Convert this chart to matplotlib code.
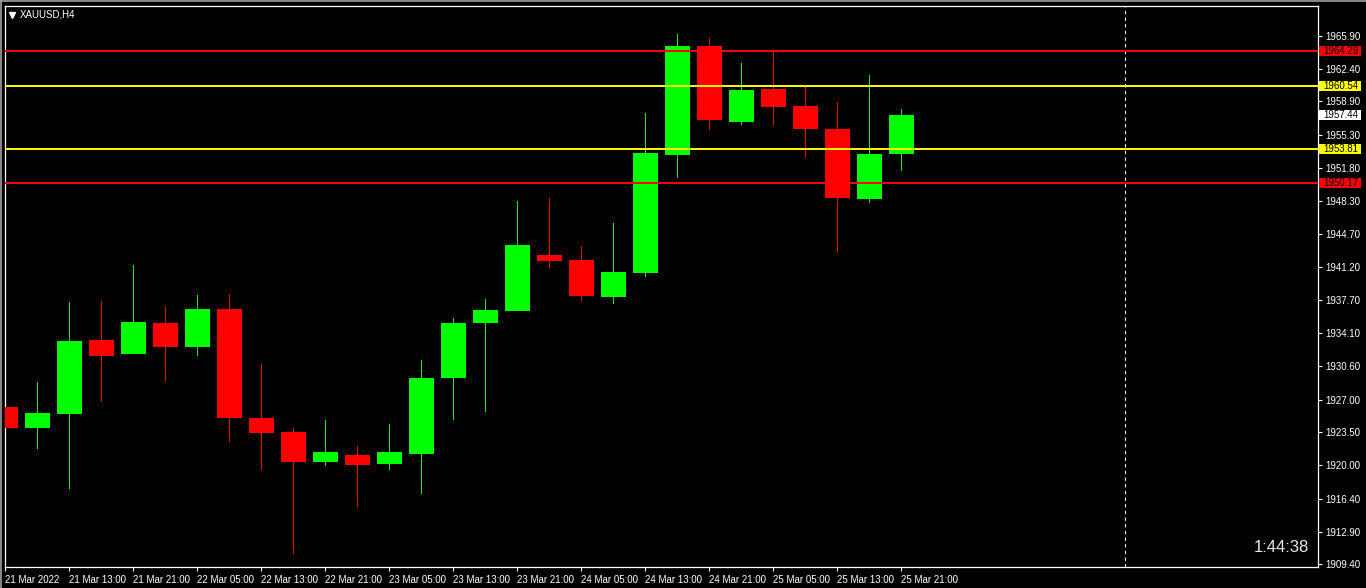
import matplotlib
matplotlib.use("Agg")
import matplotlib.pyplot as plt
from matplotlib.patches import Rectangle
from matplotlib.lines import Line2D
import matplotlib.transforms as mtransforms

plt.rcParams['font.family'] = ['Liberation Sans', 'DejaVu Sans']

# XAUUSD H4 candles
opens = [1926.22, 1924.01, 1925.50, 1933.39, 1931.92, 1935.20, 1932.67, 1936.70,
         1925.04, 1923.55, 1920.37, 1921.09, 1920.16, 1921.23, 1929.35, 1935.24,
         1936.52, 1942.48, 1941.94, 1938.02, 1940.58, 1953.20, 1964.83, 1956.73,
         1960.23, 1958.41, 1955.95, 1948.50, 1953.31]
highs = [1928.89, 1928.89, 1937.45, 1937.56, 1941.41, 1936.92, 1938.20, 1938.20,
         1930.82, 1923.97, 1924.83, 1922.05, 1924.40, 1931.25, 1935.74, 1937.77,
         1948.25, 1948.57, 1943.33, 1945.90, 1957.66, 1966.11, 1965.69, 1963.01,
         1964.19, 1960.55, 1958.73, 1961.73, 1958.09]
lows = [1922.69, 1921.73, 1917.45, 1926.89, 1931.92, 1929.03, 1931.71, 1922.51,
        1919.51, 1910.53, 1919.94, 1915.56, 1919.51, 1916.95, 1924.86, 1925.72,
        1936.52, 1941.12, 1937.59, 1937.27, 1940.16, 1950.74, 1955.88, 1956.41,
        1956.41, 1952.99, 1942.83, 1948.07, 1951.49]
closes = [1924.01, 1925.58, 1933.28, 1931.71, 1935.31, 1932.67, 1936.70, 1925.08,
          1923.47, 1920.37, 1921.41, 1920.05, 1921.41, 1929.32, 1935.20, 1936.60,
          1943.55, 1941.87, 1938.12, 1940.66, 1953.39, 1964.83, 1956.95, 1960.12,
          1958.34, 1955.95, 1948.61, 1953.28, 1957.44]

x_labels = ["21 Mar 2022", "21 Mar 13:00", "21 Mar 21:00", "22 Mar 05:00",
            "22 Mar 13:00", "22 Mar 21:00", "23 Mar 05:00", "23 Mar 13:00",
            "23 Mar 21:00", "24 Mar 05:00", "24 Mar 13:00", "24 Mar 21:00",
            "25 Mar 05:00", "25 Mar 13:00", "25 Mar 21:00"]
y_ticks = [1965.90, 1962.40, 1958.90, 1955.30, 1951.80, 1948.30, 1944.70, 1941.20,
           1937.70, 1934.10, 1930.60, 1927.00, 1923.50, 1920.00, 1916.40, 1912.90,
           1909.40]

red_levels = [1964.29, 1950.17]
yellow_levels = [1960.54, 1953.81]
current_price = 1957.44
period_sep = 35      # bar index of the dashed separator
timer_text = "1:44:38"

GREEN = '#00FF00'
RED = '#FF0000'
YELLOW = '#FFFF00'
FS = 7

W, H = 1366, 588
fig = plt.figure(figsize=(W / 100, H / 100), dpi=100, facecolor='black')
ax = fig.add_axes([4.5 / W, 1 - 567 / H, (1318 - 4.5) / W, (567 - 6) / H])
ax.set_facecolor('black')

# Candles: 1px wick + body
px = 41.05 / (1318 - 4.5)   # one pixel in bar units
for i in range(len(opens)):
    o, h, l, c = opens[i], highs[i], lows[i], closes[i]
    col = GREEN if c >= o else RED
    ax.bar(i, h - l, bottom=l, width=px, color=col, linewidth=0,
           zorder=2, antialiased=False)
    ax.bar(i, abs(c - o), bottom=min(o, c), width=0.78, color=col,
           linewidth=0, zorder=3, antialiased=False)

# Horizontal levels
for lv in red_levels:
    ax.axhline(lv, color=RED, lw=1.4, zorder=4)
for lv in yellow_levels:
    ax.axhline(lv, color=YELLOW, lw=1.4, zorder=4)

# Dashed period separator
ax.axvline(period_sep, color='white', lw=0.8, ls=(0, (3, 3)), zorder=1)

ax.set_xlim(-0.031, 41.02)
ax.set_ylim(1909.11, 1969.11)

# Axes styling
for sp in ax.spines.values():
    sp.set_color('white')
    sp.set_linewidth(0.9)

ax.yaxis.tick_right()
ax.set_yticks(y_ticks)
ax.set_yticklabels([f"{v:.2f}" for v in y_ticks])
ax.set_xticks(range(0, 2 * len(x_labels), 2))
ax.set_xticklabels(x_labels, ha='left')
for lab in ax.get_xticklabels():
    lab.set_transform(lab.get_transform() + mtransforms.ScaledTranslation(-1.5 / 100, 0, fig.dpi_scale_trans))
ax.tick_params(axis='both', colors='white', labelcolor='white', labelsize=FS,
               length=3, width=0.8)
ax.tick_params(axis='y', pad=2)
ax.tick_params(axis='x', pad=3)

# Price labels on the right scale
trans = mtransforms.blended_transform_factory(ax.transAxes, ax.transData)
box_x0 = (1319 - 4.5) / (1318 - 4.5)
box_w = 42 / (1318 - 4.5)
box_h = 10 / 9.35
tag_list = [(red_levels[0], RED), (yellow_levels[0], YELLOW), (current_price, 'white'),
            (yellow_levels[1], YELLOW), (red_levels[1], RED)]
for val, col in tag_list:
    ax.add_patch(Rectangle((box_x0, val - box_h / 2), box_w, box_h, transform=trans,
                           facecolor=col, edgecolor='none', clip_on=False, zorder=5))
    ax.text(box_x0 + 4.5 / (1318 - 4.5), val, f"{val:.2f}", transform=trans,
            color='black', fontsize=FS, va='center', ha='left', clip_on=False, zorder=6)

# Symbol title with small triangle
ax.plot([(11.5 - 4.5) / (1318 - 4.5)], [1 - (14.5 - 6) / (567 - 6)], marker='v',
        color='white', markersize=4.5, transform=ax.transAxes, clip_on=False, zorder=6)
fig.text(19.5 / W, 1 - 14.5 / H, "XAUUSD,H4", color='white', fontsize=FS,
         va='center', ha='left')

# Bar countdown timer
fig.text(1309 / W, 1 - 548 / H, timer_text, color='#E8E8E8', fontsize=12,
         va='center', ha='right')

# Window border
fig.add_artist(Line2D([0, 1], [1 - 0.5 / H, 1 - 0.5 / H], color='#A0A0A0', lw=1.2))
fig.add_artist(Line2D([0.5 / W, 0.5 / W], [0, 1], color='#A0A0A0', lw=1.2))

fig.savefig('out.png', dpi=100, facecolor='black')
